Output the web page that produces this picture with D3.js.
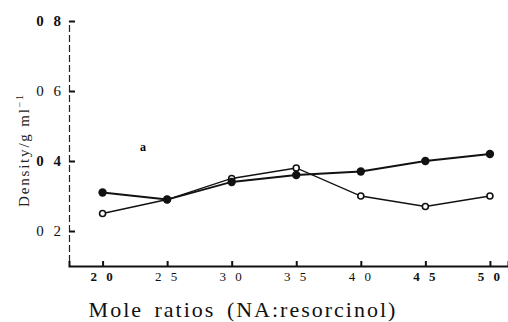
<!DOCTYPE html>
<html>
<head>
<meta charset="utf-8">
<script src="https://cdn.jsdelivr.net/npm/d3@7"></script>
<style>
  body { margin: 0; background: #fff; }
  svg { display: block; }
  .tick text { font-family: "Liberation Serif", "DejaVu Serif", serif; fill: #111; }
</style>
</head>
<body>
<div id="chart"></div>
<script>
// mole ratio (NA:resorcinol)
var ratios = [2.0, 2.5, 3.0, 3.5, 4.0, 4.5, 5.0];
var xLabels = ["2 0", "2 5", "3 0", "3 5", "4 0", "4 5", "5 0"];
// density g/ml
var densFilled = [0.31, 0.29, 0.34, 0.36, 0.37, 0.40, 0.42];
var densOpen = [0.25, 0.29, 0.35, 0.38, 0.30, 0.27, 0.30];
var yTicks = [0.2, 0.4, 0.6, 0.8];
var yLabels = ["0 2", "0 4", "0 6", "0 8"];

var width = 508, height = 322;

var svg = d3.select("#chart").append("svg")
  .attr("width", width)
  .attr("height", height);

var x = d3.scaleLinear().domain([1.74, 5.14]).range([69, 508]);
var y = d3.scaleLinear().domain([0.1, 0.8]).range([266, 21]);

// y axis, ticks point inward
var yAxis = d3.axisLeft(y)
  .tickValues(yTicks)
  .tickSize(-6)
  .tickPadding(5)
  .tickFormat(function(d, i){ return yLabels[i]; });

var gy = svg.append("g")
  .attr("transform", "translate(69,0)")
  .call(yAxis);
gy.select(".domain").attr("stroke", "#222").attr("stroke-width", 1.2).attr("stroke-dasharray", "7,3");
gy.selectAll(".tick line").attr("stroke", "#111").attr("stroke-width", 2);
gy.selectAll(".tick text")
  .style("font-size", "15px")
  .style("letter-spacing", "3px")
  .style("font-weight", function(d){ return (d == 0.8 || d == 0.4) ? "bold" : "normal"; });

// x axis, ticks point up
var xAxis = d3.axisBottom(x)
  .tickValues(ratios)
  .tickSize(-5)
  .tickPadding(6)
  .tickFormat(function(d, i){ return xLabels[i]; });

var gx = svg.append("g")
  .attr("transform", "translate(0,266)")
  .call(xAxis);
gx.select(".domain").attr("stroke", "#111").attr("stroke-width", 2);
gx.selectAll(".tick line").attr("stroke", "#111").attr("stroke-width", 2);
gx.selectAll(".tick text")
  .style("font-size", "13px")
  .style("letter-spacing", "3px")
  .style("font-weight", function(d){ return (d == 2.0 || d >= 4.5) ? "bold" : "normal"; });

var line = d3.line()
  .x(function(d){ return x(d[0]); })
  .y(function(d){ return y(d[1]); });

var filledPts = ratios.map(function(r, i){ return [r, densFilled[i]]; });
var openPts = ratios.map(function(r, i){ return [r, densOpen[i]]; });

svg.append("path")
  .attr("d", line(openPts))
  .attr("fill", "none")
  .attr("stroke", "#111")
  .attr("stroke-width", 1.3);

svg.append("path")
  .attr("d", line(filledPts))
  .attr("fill", "none")
  .attr("stroke", "#111")
  .attr("stroke-width", 1.8);

svg.selectAll("circle.open")
  .data(openPts)
  .enter().append("circle")
  .attr("class", "open")
  .attr("cx", function(d){ return x(d[0]); })
  .attr("cy", function(d){ return y(d[1]); })
  .attr("r", 3)
  .attr("fill", "#fff")
  .attr("stroke", "#111")
  .attr("stroke-width", 1.6);

svg.selectAll("circle.filled")
  .data(filledPts)
  .enter().append("circle")
  .attr("class", "filled")
  .attr("cx", function(d){ return x(d[0]); })
  .attr("cy", function(d){ return y(d[1]); })
  .attr("r", 4.2)
  .attr("fill", "#111");

// panel letter
svg.append("text")
  .attr("x", 143)
  .attr("y", 151)
  .attr("text-anchor", "middle")
  .style("font-family", "Liberation Serif, serif")
  .style("font-size", "12px")
  .style("font-weight", "bold")
  .text("a");

// y title
svg.append("text")
  .attr("transform", "translate(29,150) rotate(-90)")
  .attr("text-anchor", "middle")
  .style("font-family", "Liberation Serif, serif")
  .style("font-size", "15px")
  .style("letter-spacing", "1.8px")
  .style("fill", "#222")
  .html("Density/g ml<tspan dy='-6' font-size='10px'>−1</tspan>");

// x title
svg.append("text")
  .attr("x", 243)
  .attr("y", 317)
  .attr("text-anchor", "middle")
  .style("font-family", "Liberation Serif, serif")
  .style("font-size", "22px")
  .style("letter-spacing", "2px")
  .style("word-spacing", "4px")
  .style("fill", "#111")
  .text("Mole ratios (NA:resorcinol)");
</script>
</body>
</html>
